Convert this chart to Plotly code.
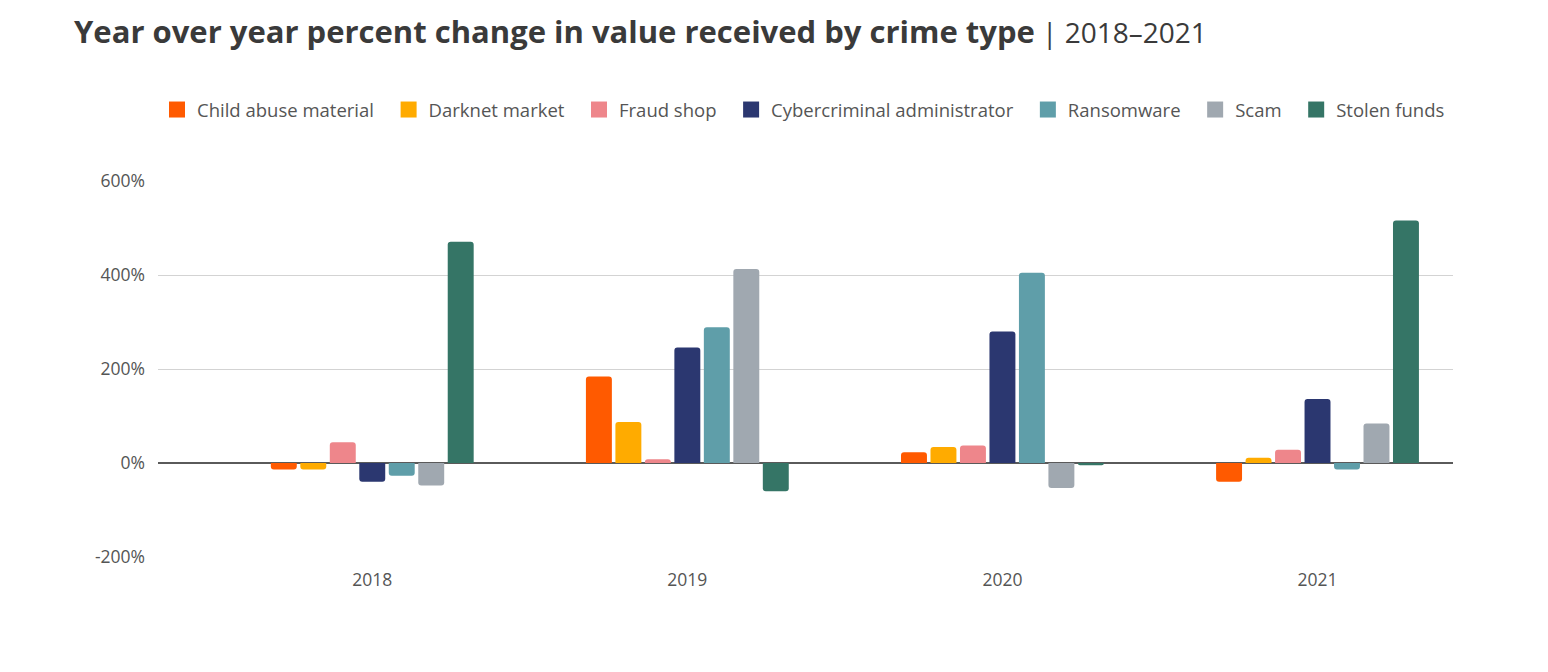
import plotly.graph_objects as go

# Dados (variação % ano a ano)
anos = ['2018', '2019', '2020', '2021']

child_abuse = [-14, 184, 23, -40]
darknet = [-14, 87, 34, 11]
fraud_shop = [44, 8, 37, 28]
cyber_admin = [-40, 246, 280, 136]
ransomware = [-27, 289, 405, -14]
scam = [-48, 413, -53, 84]
stolen_funds = [471, -60, -5, 516]

series = [
    ('Child abuse material', child_abuse, '#FF5A00'),
    ('Darknet market', darknet, '#FFAB00'),
    ('Fraud shop', fraud_shop, '#EE868B'),
    ('Cybercriminal administrator', cyber_admin, '#2B3770'),
    ('Ransomware', ransomware, '#5F9EA9'),
    ('Scam', scam, '#A0A8B0'),
    ('Stolen funds', stolen_funds, '#357566'),
]

y_ticks = [-200, 0, 200, 400, 600]
y_labels = ['-200%', '0%', '200%', '400%', '600%']

fig = go.Figure()
for nome, valores, cor in series:
    fig.add_trace(go.Bar(x=anos, y=valores, name=nome, showlegend=False,
                         marker=dict(color=cor, line=dict(width=0))))

# Legenda com quadrados maiores (entradas vazias, só para a legenda)
# os espaços no fim do nome abrem um pouco o espaçamento entre itens
for nome, valores, cor in series:
    fig.add_trace(go.Scatter(x=[None], y=[None], mode='markers', name=nome + '\u00a0\u00a0',
                             marker=dict(symbol='square', size=17, color=cor)))

fonte = 'Open Sans'
# a página desloca tudo 8px (margem do body), por isso os valores abaixo já descontam isso
topo, base = 173, 123
esq, dir_ = 150, 103
altura_plot = 672 - topo - base
largura_plot = 1548 - esq - dir_

fig.update_layout(
    width=1548, height=672,
    paper_bgcolor='white', plot_bgcolor='white',
    font=dict(family=fonte, size=17, color='#555555'),
    title=dict(
        text='<b>Year over year percent change in value received by crime type</b>'
             '<span style="font-size:28px;"> | 2018–2021</span>',
        x=66 / 1548, xanchor='left', xref='container',
        y=1 - 24 / 672, yanchor='middle', yref='container',
        font=dict(family=fonte, size=31, color='#3A3A3A'),
    ),
    # x ligeiramente negativo: o plotly deixa a legenda usar a largura toda sem quebrar linha
    legend=dict(
        orientation='h', x=(149 - esq) / largura_plot, xanchor='left',
        y=1 + (topo - 102) / altura_plot, yanchor='middle',
        font=dict(family=fonte, size=18.5, color='#555555'),
        itemsizing='trace', traceorder='normal',
    ),
    barmode='group', bargap=0.345, bargroupgap=0.12, barcornerradius=3,
    margin=dict(l=esq, r=dir_, t=topo, b=base),
    xaxis=dict(
        type='category', range=[-0.68, 3.43], showgrid=False, showline=False,
        ticks='', ticklabelstandoff=10, tickfont=dict(size=17.5, color='#555555'),
    ),
    yaxis=dict(
        range=[-200, 600], tickvals=y_ticks, ticktext=y_labels,
        showgrid=True, gridcolor='#D3D3D3', gridwidth=1.2,
        zeroline=True, zerolinecolor='#5A5A5A', zerolinewidth=1.6,
        ticks='', ticklabelstandoff=12, tickfont=dict(size=17.5, color='#555555'),
    ),
)

fig.write_html('out.html')
